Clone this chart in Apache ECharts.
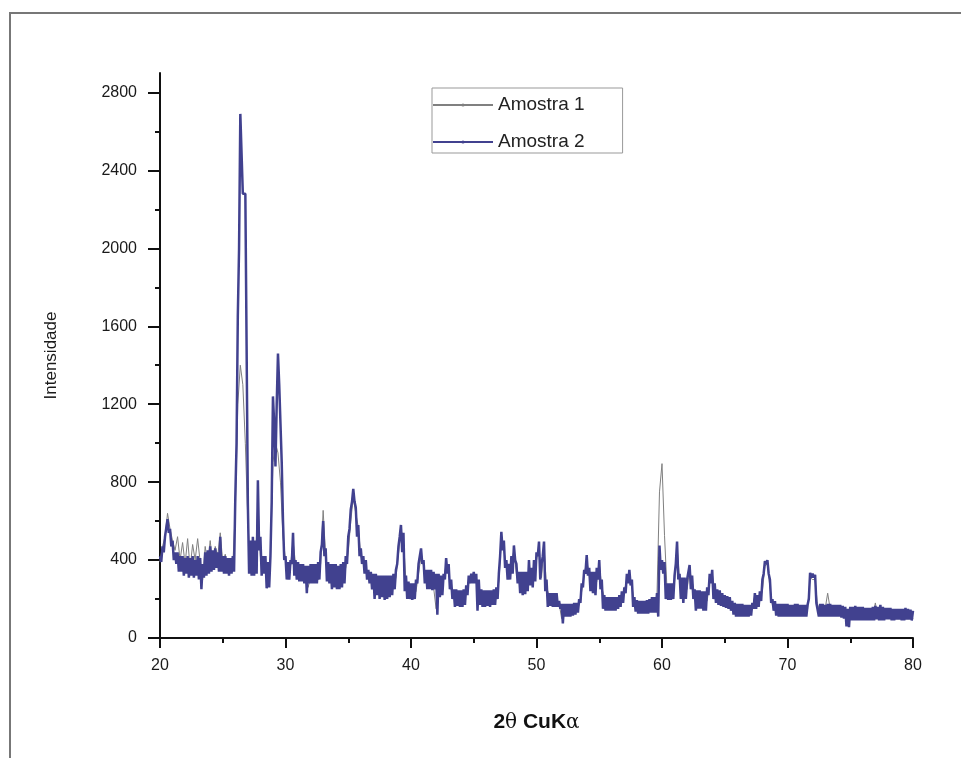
<!DOCTYPE html>
<html>
<head>
<meta charset="utf-8">
<script src="https://cdn.jsdelivr.net/npm/echarts@6/dist/echarts.min.js"></script>
<style>
  html, body { margin: 0; padding: 0; background: #fff; }
  #chart { width: 961px; height: 758px; }
</style>
</head>
<body>
<div id="chart"></div>
<script>
// 2theta scan: 20 -> 80 degrees
const scanStart = 20;
const scanStep = 0.2;

// Amostra 1: one reading every 0.2 degree
const amostra1 = [
  390, 470, 520, 640, 560, 500, 450, 520, 400, 490,
  380, 510, 360, 480, 400, 510, 390, 300, 470, 380,
  500, 380, 470, 420, 540, 390, 430, 360, 410, 370,
  650, 1200, 1400, 1300, 1000, 600, 360, 470, 380, 700,
  420, 350, 400, 290, 400, 900, 1000, 950, 800, 520,
  400, 350, 370, 500, 380, 320, 360, 300, 330, 260,
  310, 290, 320, 300, 380, 655, 420, 340, 310, 350,
  300, 320, 290, 310, 360, 440, 600, 720, 640, 570,
  420, 390, 350, 310, 320, 270, 290, 260, 280, 250,
  270, 240, 280, 270, 310, 430, 560, 500, 290, 240,
  250, 210, 240, 330, 420, 370, 290, 260, 300, 260,
  150, 280, 250, 300, 380, 330, 250, 210, 220, 190,
  210, 200, 230, 290, 320, 310, 320, 180, 240, 210,
  200, 220, 190, 230, 220, 290, 500, 450, 370, 340,
  390, 450, 330, 290, 260, 290, 270, 360, 280, 340,
  400, 470, 310, 470, 260, 220, 190, 200, 170, 180,
  100, 150, 130, 160, 140, 150, 150, 170, 240, 320,
  400, 320, 270, 240, 290, 380, 260, 210, 180, 190,
  160, 180, 170, 190, 210, 250, 290, 330, 270, 180,
  160, 170, 150, 160, 160, 180, 150, 160, 220, 750,
  895, 527, 250, 260, 210, 290, 470, 300, 240, 270,
  250, 350, 290, 230, 200, 220, 180, 200, 190, 290,
  330, 250, 230, 200, 210, 180, 190, 170, 180, 160,
  150, 140, 145, 130, 140, 130, 150, 220, 180, 200,
  240, 370, 380, 260, 170, 180, 140, 150, 150, 160,
  150, 130, 140, 140, 150, 150, 160, 130, 150, 310,
  300, 300, 160, 170, 140, 150, 230, 150, 160, 140,
  140, 120, 130, 110, 80, 120, 110, 140, 120, 130,
  110, 120, 100, 130, 110, 180, 100, 140, 120, 130,
  110, 120, 100, 120, 110, 130, 100, 120, 110, 120,
  100
];

// Amostra 2 is very noisy: readings at 20.0, 20.2, ... (upper side of the trace)
const amostra2Even = [
  420, 470, 520, 610, 560, 500, 440, 440, 420, 420,
  410, 420, 410, 420, 400, 420, 410, 380, 440, 450,
  470, 450, 460, 440, 520, 420, 420, 410, 410, 420,
  720, 1650, 2690, 2280, 2280, 690, 500, 520, 500, 810,
  520, 420, 420, 390, 420, 1240, 880, 1460, 1310, 600,
  420, 390, 400, 540, 400, 390, 380, 380, 370, 370,
  380, 380, 380, 390, 440, 600, 460, 390, 380, 380,
  380, 370, 380, 390, 420, 520, 660, 765, 670, 580,
  460, 420, 400, 350, 340, 330, 330, 320, 320, 320,
  320, 320, 320, 330, 350, 470, 580, 540, 320, 290,
  280, 280, 300, 380, 460, 400, 350, 350, 350, 340,
  330, 330, 320, 330, 410, 380, 300, 250, 250, 245,
  245, 250, 270, 320, 330, 340, 330, 300, 250, 245,
  245, 245, 245, 250, 260, 330, 545, 500, 400, 380,
  420, 475, 380, 340, 340, 340, 340, 400, 360, 400,
  440, 495, 380, 495, 300, 230, 230, 230, 230, 190,
  175, 175, 175, 175, 175, 180, 180, 200, 280, 350,
  425, 360, 340, 340, 360, 400, 300, 220, 210, 210,
  210, 210, 210, 220, 240, 260, 330, 350, 300, 210,
  195, 190, 190, 190, 195, 200, 210, 210, 230, 475,
  400, 390, 280, 280, 280, 320, 495, 330, 310, 310,
  300, 375, 320, 250, 245, 245, 240, 240, 260, 330,
  350, 280, 250, 245, 230, 220, 215, 210, 190, 180,
  175, 175, 175, 170, 170, 170, 180, 230, 220, 240,
  300, 395, 400, 300, 200, 190, 175, 175, 175, 175,
  175, 170, 170, 175, 175, 170, 170, 170, 170, 335,
  330, 325, 180, 175, 175, 170, 175, 175, 170, 170,
  170, 170, 165, 160, 150, 160, 160, 165, 160, 160,
  160, 155, 155, 155, 160, 165, 160, 170, 160, 155,
  155, 155, 150, 150, 150, 150, 150, 155, 150, 145,
  140
];

// Amostra 2 readings at 20.1, 20.3, ... (lower side of the trace)
const amostra2Odd = [
  390, 440, 520, 540, 470, 400, 380, 340, 340, 320,
  330, 310, 320, 310, 320, 300, 250, 310, 320, 330,
  340, 350, 360, 340, 340, 330, 330, 320, 330, 340,
  1000, 2000, 2690, 2280, 1500, 330, 320, 320, 330, 450,
  320, 330, 255, 260, 700, 1100, 1200, 1300, 900, 400,
  300, 300, 380, 320, 300, 290, 290, 280, 230, 280,
  280, 280, 280, 300, 480, 420, 290, 280, 250, 260,
  250, 250, 260, 280, 380, 560, 700, 700, 520, 420,
  380, 330, 300, 280, 250, 200, 220, 200, 210, 195,
  200, 210, 220, 250, 380, 520, 440, 240, 200, 200,
  195, 200, 280, 380, 380, 280, 250, 250, 245, 250,
  120, 210, 220, 300, 330, 250, 200, 160, 165, 160,
  160, 170, 220, 280, 280, 280, 140, 170, 160, 160,
  165, 160, 170, 170, 200, 420, 450, 360, 300, 300,
  330, 400, 280, 230, 220, 225, 240, 270, 260, 290,
  420, 300, 420, 240, 160, 165, 160, 160, 160, 150,
  75, 110, 110, 110, 115, 120, 130, 180, 260, 330,
  320, 240, 230, 220, 300, 250, 150, 140, 140, 140,
  140, 140, 150, 160, 180, 230, 280, 270, 160, 135,
  125, 125, 125, 125, 125, 130, 130, 130, 110, 350,
  330, 200, 195, 195, 200, 380, 300, 200, 180, 200,
  300, 250, 200, 140, 150, 150, 140, 140, 220, 280,
  200, 180, 170, 165, 160, 155, 150, 140, 120, 110,
  110, 110, 110, 110, 110, 115, 150, 150, 160, 190,
  330, 380, 330, 180, 140, 115, 110, 110, 110, 110,
  110, 110, 110, 110, 110, 110, 110, 110, 200, 310,
  310, 180, 110, 110, 110, 110, 110, 110, 110, 110,
  110, 105, 100, 60, 55, 90, 90, 90, 90, 90,
  90, 90, 90, 90, 90, 95, 90, 90, 90, 95,
  95, 90, 90, 95, 95, 90, 90, 95, 95, 90
];

const yTicks = [0, 400, 800, 1200, 1600, 2000, 2400, 2800];

const amostra1Data = amostra1.map((v, i) => [scanStart + i * scanStep, v]);

const amostra2Data = [];
amostra2Even.forEach((v, i) => {
  amostra2Data.push([scanStart + i * scanStep, v]);
  if (i < amostra2Odd.length) {
    amostra2Data.push([scanStart + i * scanStep + scanStep / 2, amostra2Odd[i]]);
  }
});

const chart = echarts.init(document.getElementById('chart'));

const labelFont = {
  fontFamily: '"Liberation Sans", Arial, sans-serif',
  color: '#1a1a1a',
};

chart.setOption({
  backgroundColor: '#ffffff',
  animation: false,
  grid: { left: 160, right: 48, top: 73, bottom: 120, containLabel: false },
  legend: {
    orient: 'vertical',
    left: 432,
    top: 88,
    padding: [6, 38, 0, 0],
    itemWidth: 60,
    itemHeight: 4,
    itemGap: 15,
    borderColor: '#999999',
    borderWidth: 1,
    textStyle: { ...labelFont, fontSize: 19, color: '#222', lineHeight: 22 },
    data: ['Amostra 1', 'Amostra 2'],
  },
  xAxis: {
    type: 'value',
    min: 20,
    max: 80,
    interval: 10,
    name: '{b|2}{n|θ}{b| CuK}{n|α}',
    nameLocation: 'middle',
    nameGap: 74,
    nameTextStyle: {
      rich: {
        b: { ...labelFont, fontSize: 21, fontWeight: 'bold', color: '#111' },
        n: { fontFamily: '"DejaVu Serif", serif', fontSize: 20, color: '#111' },
      },
    },
    axisLine: { onZero: false, lineStyle: { color: '#111', width: 2 } },
    axisTick: { inside: false, length: 10, lineStyle: { color: '#111', width: 2 } },
    minorTick: { show: true, splitNumber: 2, length: 5, lineStyle: { color: '#111', width: 2 } },
    axisLabel: { ...labelFont, fontSize: 16, margin: 20 },
    splitLine: { show: false },
  },
  yAxis: {
    type: 'value',
    min: 0,
    max: 2900,
    interval: 400,
    name: 'Intensidade',
    nameLocation: 'middle',
    nameGap: 100,
    nameTextStyle: { ...labelFont, fontSize: 17 },
    axisLine: { show: true, lineStyle: { color: '#111', width: 2 } },
    axisTick: { show: true, length: 12, customValues: yTicks, lineStyle: { color: '#111', width: 2 } },
    minorTick: { show: true, splitNumber: 2, length: 5, lineStyle: { color: '#111', width: 2 } },
    axisLabel: {
      ...labelFont,
      fontSize: 16,
      margin: 23,
      customValues: yTicks,
      formatter: (v) => String(v),
    },
    splitLine: { show: false },
  },
  graphic: [
    {
      type: 'polyline',
      silent: true,
      shape: { points: [[10, 758], [10, 13], [961, 13]] },
      style: { stroke: '#777777', lineWidth: 2, fill: null },
    },
  ],
  series: [
    {
      name: 'Amostra 1',
      type: 'line',
      data: amostra1Data,
      symbol: 'none',
      lineStyle: { color: '#808080', width: 1 },
      itemStyle: { color: '#808080' },
      z: 2,
    },
    {
      name: 'Amostra 2',
      type: 'line',
      data: amostra2Data,
      symbol: 'none',
      sampling: null,
      lineStyle: { color: '#41418f', width: 2.5 },
      itemStyle: { color: '#41418f' },
      z: 3,
    },
  ],
});
</script>
</body>
</html>
